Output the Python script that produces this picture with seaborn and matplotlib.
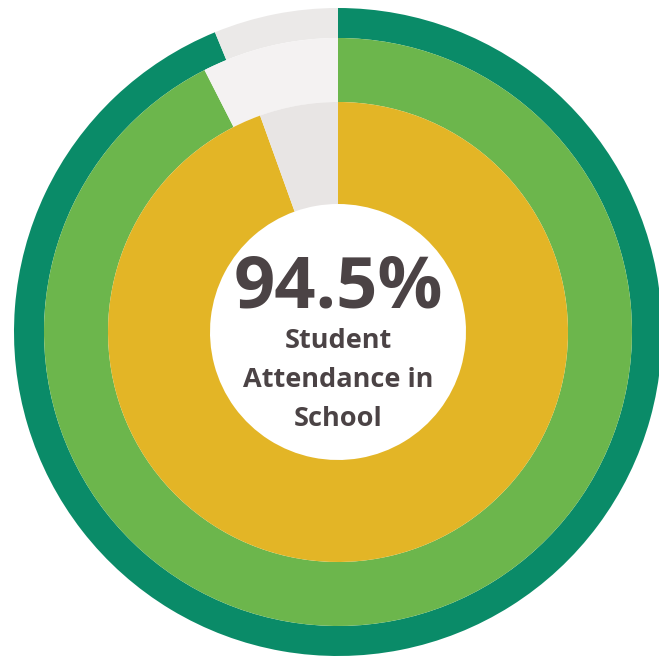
import matplotlib
matplotlib.use("Agg")
import matplotlib.pyplot as plt
import seaborn as sns

# ring values (percent filled), outer -> inner
ring_names = ['outer', 'middle', 'inner']
ring_values = [93.8, 92.5, 94.5]
ring_colors = ['#0a8b68', '#6cb64c', '#e3b526']
gap_colors = ['#ebe9e8', '#f4f2f2', '#e8e5e4']

big_label = '94.5%'
sub_label = 'Student\nAttendance in\nSchool'

sns.set_theme(style='white')
plt.rcParams['font.family'] = ['Open Sans', 'DejaVu Sans']

fig = plt.figure(figsize=(6.59, 6.60), dpi=100)
ax = fig.add_axes([0, 0, 1, 1])

cx, cy = 338, 332
radii = [324, 294, 230]
widths = [30, 64, 102]

for val, col, gcol, r, w in zip(ring_values, ring_colors, gap_colors, radii, widths):
    ax.pie([val, 100 - val], colors=[col, gcol], radius=r, center=(0, 0),
           startangle=90, counterclock=False,
           wedgeprops=dict(width=w, linewidth=0, antialiased=True))

ax.set_xlim(-cx, 659 - cx)
ax.set_ylim(-(660 - cy), cy)
ax.set_aspect('equal')
ax.axis('off')

txt_col = '#4b4345'
ax.text(0, 332 - 288, big_label, ha='center', va='center', fontsize=52,
        fontweight='bold', color=txt_col)
ax.text(0, 332 - 380, sub_label, ha='center', va='center', fontsize=19.5,
        fontweight='bold', color=txt_col, linespacing=1.65)

plt.savefig('out.png', dpi=100, facecolor='white')
